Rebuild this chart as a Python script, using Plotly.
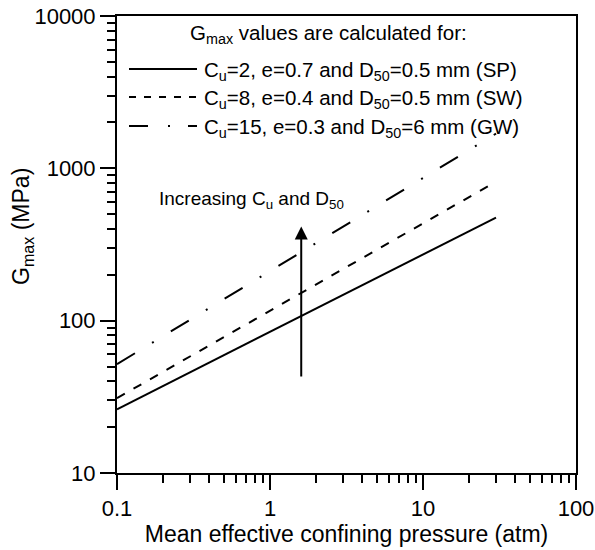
import math
import plotly.graph_objects as go

# ---- data ----
pressure = [0.1, 0.3, 1, 3, 10, 30]
gmax_sp = [26.2, 45.8, 84.4, 147.4, 271.9, 475]
gmax_sw = [31.0, 58.3, 116.2, 218.0, 435.6, 817]
gmax_gw = [51.8, 101.3, 211.5, 413.7, 863.6, 1690]

series_labels = [
    "C<sub>u</sub>=2, e=0.7 and D<sub>50</sub>=0.5 mm (SP)",
    "C<sub>u</sub>=8, e=0.4 and D<sub>50</sub>=0.5 mm (SW)",
    "C<sub>u</sub>=15, e=0.3 and D<sub>50</sub>=6 mm (GW)",
]
legend_title = "G<sub>max</sub> values are calculated for:"
arrow_label = "Increasing C<sub>u</sub> and D<sub>50</sub>"
arrow_x = 1.6
arrow_y_from = 42
arrow_y_to = 415

x_tick_vals = [0.1, 1, 10, 100]
x_tick_text = ["0.1", "1", "10", "100"]
y_tick_vals = [10, 100, 1000, 10000]
y_tick_text = ["10", "100", "1000", "10000"]

x_title = "Mean effective confining pressure (atm)"
y_title = "G<sub>max</sub> (MPa)"

# ---- styling ----
FONT = "Liberation Sans, Arial, Helvetica, sans-serif"
W, H = 595, 550
L, R, T, B = 117, 19, 16, 77
PW, PH = W - L - R, H - T - B

def px(xpix):
    return (xpix - L) / PW

def py(ypix):
    return (H - B - ypix) / PH

dashes = ["solid", "9px,10px", "21px,20px,2px,20px"]
legend_dashes = ["solid", "7px,8px", "19px,20px,2px,18px"]

fig = go.Figure()
for yv, d in zip([gmax_sp, gmax_sw, gmax_gw], dashes):
    fig.add_trace(go.Scatter(x=pressure, y=yv, mode="lines",
                             line=dict(color="black", width=2, dash=d),
                             showlegend=False, hoverinfo="skip"))

minor_x = [m * 10 ** k for k in range(-1, 2) for m in range(2, 10)]
minor_y = [m * 10 ** k for k in range(1, 4) for m in range(2, 10)]

axis_common = dict(
    showline=True, linewidth=2, linecolor="black", mirror=True,
    showgrid=False, zeroline=False, automargin=False,
    ticks="outside", ticklen=15, tickwidth=2, tickcolor="black",
    tickfont=dict(family=FONT, size=22, color="black"),
)

fig.update_xaxes(type="log", range=[-1, 2], tickmode="array",
                 tickvals=x_tick_vals, ticktext=x_tick_text,
                 minor=dict(tickmode="array", tickvals=minor_x, ticks="outside",
                            ticklen=8, tickwidth=2, tickcolor="black", showgrid=False),
                 title=dict(text=x_title, font=dict(family=FONT, size=23, color="black"),
                            standoff=0),
                 **axis_common)
fig.update_yaxes(type="log", range=[1, 4], tickmode="array",
                 tickvals=y_tick_vals, ticktext=y_tick_text,
                 minor=dict(tickmode="array", tickvals=minor_y, ticks="outside",
                            ticklen=8, tickwidth=2, tickcolor="black", showgrid=False),
                 **axis_common)

annotations = []
# y axis title
annotations.append(dict(text=y_title, xref="paper", yref="paper",
                        x=px(22), y=py(227), xanchor="center", yanchor="middle",
                        textangle=-90, showarrow=False,
                        font=dict(family=FONT, size=23, color="black")))
# legend title
annotations.append(dict(text=legend_title, xref="paper", yref="paper",
                        x=px(188), y=py(34), xanchor="left", yanchor="middle",
                        showarrow=False, font=dict(family=FONT, size=20.5, color="black")))
shapes = []
row_y = [69, 97, 126]
for lab, d, ry in zip(series_labels, legend_dashes, row_y):
    shapes.append(dict(type="line", xref="paper", yref="paper",
                       x0=px(129), x1=px(197), y0=py(ry), y1=py(ry),
                       line=dict(color="black", width=2, dash=d)))
    annotations.append(dict(text=lab, xref="paper", yref="paper",
                            x=px(202), y=py(ry + 2), xanchor="left", yanchor="middle",
                            showarrow=False, font=dict(family=FONT, size=20.5, color="black")))
# arrow label
annotations.append(dict(text=arrow_label, xref="paper", yref="paper",
                        x=px(157), y=py(200), xanchor="left", yanchor="middle",
                        showarrow=False, font=dict(family=FONT, size=19, color="black")))
# arrow
annotations.append(dict(text="", x=math.log10(arrow_x), y=math.log10(arrow_y_to),
                        ax=math.log10(arrow_x), ay=math.log10(arrow_y_from),
                        xref="x", yref="y", axref="x", ayref="y",
                        showarrow=True, arrowhead=2, arrowsize=1.3, arrowwidth=2,
                        arrowcolor="black", standoff=0))

fig.update_layout(width=W, height=H, margin=dict(l=L, r=R, t=T, b=B),
                  paper_bgcolor="white", plot_bgcolor="white",
                  annotations=annotations, shapes=shapes,
                  font=dict(family=FONT, color="black"))

fig.write_html("out.html")
